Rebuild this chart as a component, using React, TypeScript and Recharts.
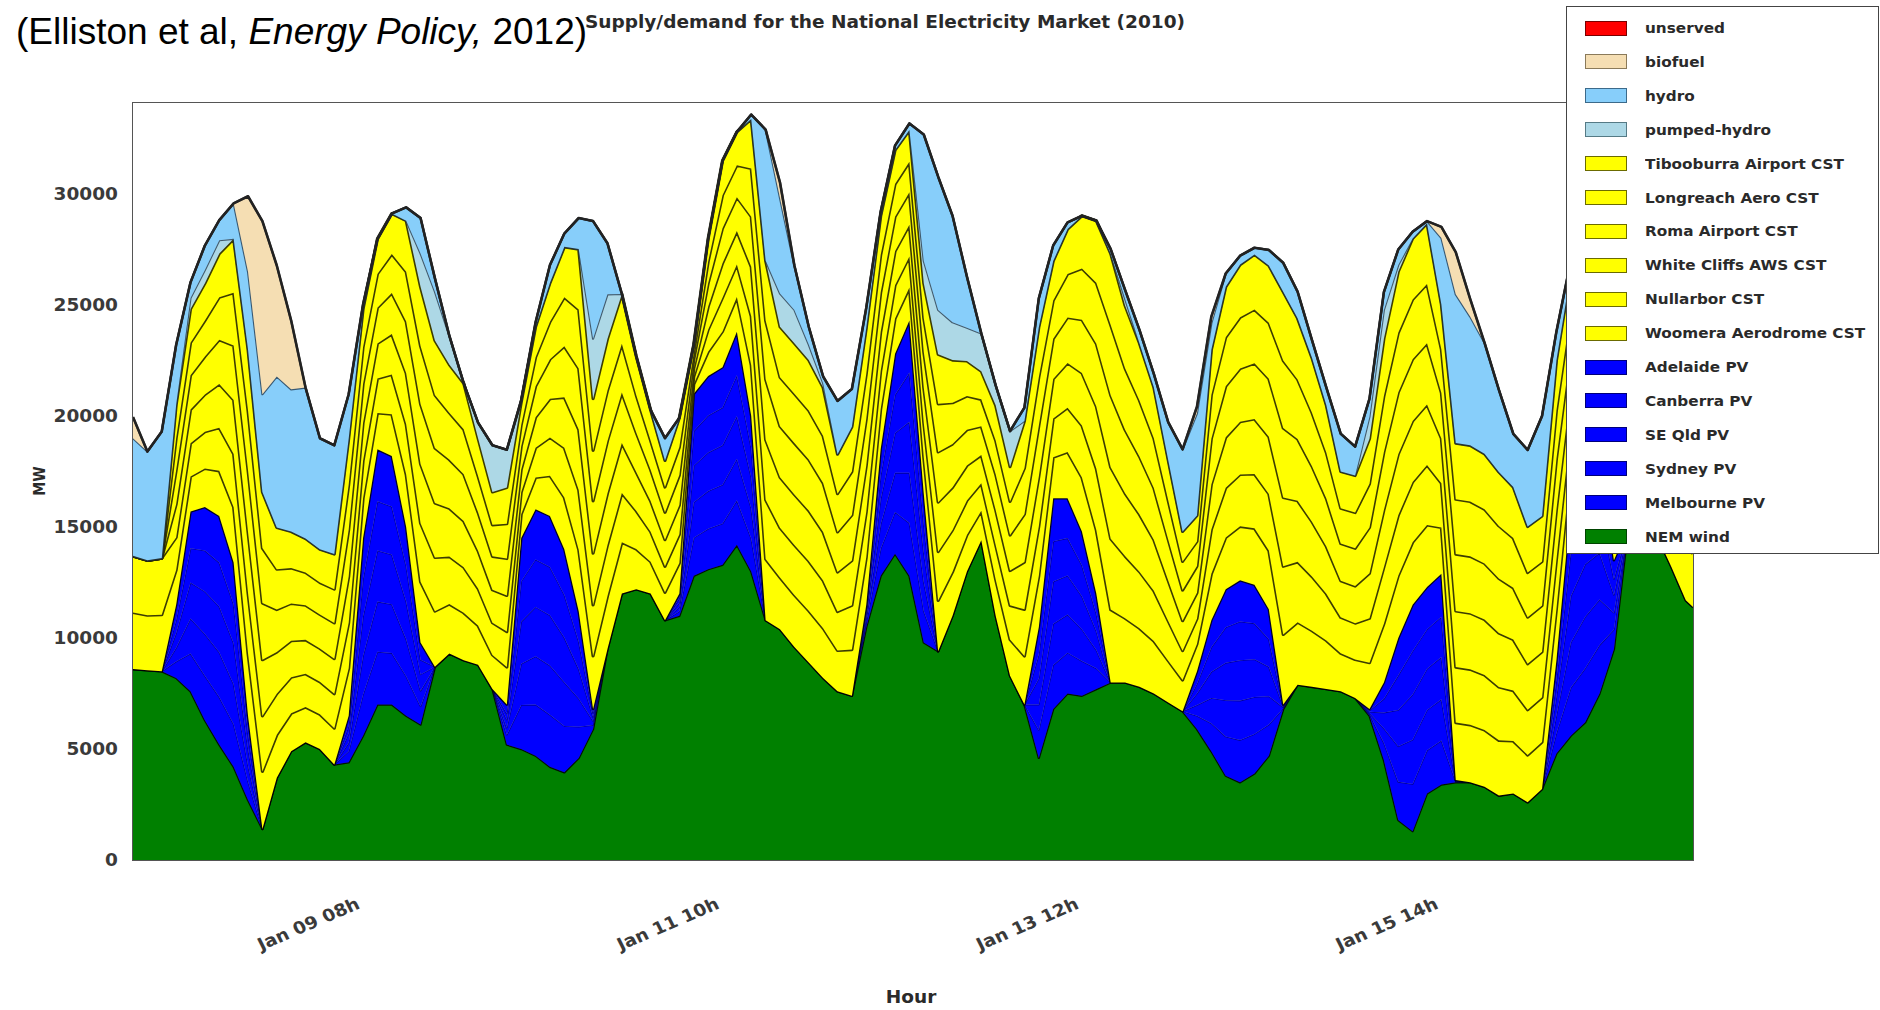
import React from 'react';
import { AreaChart, Area, XAxis, YAxis } from 'recharts';

// Stacked supply for the NEM, every 2 hours.
// Hours are counted from Jan 08 00h; the last sample sits on the right edge.
const HOURS = [
  0, 2, 4, 6, 8, 10, 12, 14, 16, 18,
  20, 22, 24, 26, 28, 30, 32, 34, 36, 38,
  40, 42, 44, 46, 48, 50, 52, 54, 56, 58,
  60, 62, 64, 66, 68, 70, 72, 74, 76, 78,
  80, 82, 84, 86, 88, 90, 92, 94, 96, 98,
  100, 102, 104, 106, 108, 110, 112, 114, 116, 118,
  120, 122, 124, 126, 128, 130, 132, 134, 136, 138,
  140, 142, 144, 146, 148, 150, 152, 154, 156, 158,
  160, 162, 164, 166, 168, 170, 172, 174, 176, 178,
  180, 182, 184, 186, 188, 190, 192, 194, 196, 198,
  200, 202, 204, 206, 208, 210, 212, 214, 216, 217,
];

const NEM_WIND = [
  8600, 8550, 8500, 8200, 7600, 6300, 5200, 4200, 2700, 1400,
  3700, 4900, 5300, 5000, 4300, 4400, 5600, 7000, 7000, 6500,
  6100, 8700, 9300, 9000, 8800, 7700, 5200, 5000, 4700, 4200,
  3950, 4600, 5900, 9500, 12000, 12200, 12000, 10800, 11000, 12800,
  13100, 13300, 14200, 13000, 10800, 10400, 9600, 8900, 8200, 7600,
  7400, 10500, 12800, 13800, 12800, 9800, 9400, 11000, 13000, 14400,
  11000, 8300, 7000, 4600, 6800, 7500, 7400, 7700, 8000, 8000,
  7800, 7500, 7100, 6700, 5900, 4900, 3800, 3500, 3900, 4700,
  6800, 7900, 7800, 7700, 7600, 7300, 6500, 4500, 1800, 1300,
  3000, 3400, 3500, 3500, 3300, 2900, 3000, 2600, 3200, 4800,
  5600, 6200, 7500, 9500, 15000, 15200, 14600, 13200, 11700, 11400,
];

const MELBOURNE_PV = [
  0, 0, 0, 740, 1700, 2000, 2140, 1920, 840, 0,
  0, 0, 0, 0, 0, 500, 1860, 2380, 2320, 1780,
  820, 0, 0, 0, 0, 0, 440, 1980, 2300, 2340,
  2090, 1400, 180, 0, 0, 0, 0, 0, 200, 1720,
  1820, 1860, 2000, 1480, 0, 0, 0, 0, 0, 0,
  0, 200, 1220, 1880, 2380, 1420, 0, 0, 0, 0,
  0, 0, 0, 1260, 1980, 1840, 1560, 940, 0, 0,
  0, 0, 0, 0, 600, 1260, 1760, 1900, 1780, 1400,
  40, 0, 0, 0, 0, 0, 60, 780, 1720, 2120,
  1940, 1980, 20, 0, 0, 0, 0, 0, 0, 920,
  2160, 2440, 2180, 880, 0, 0, 0, 0, 0, 0,
];

const SYDNEY_PV = [
  0, 0, 0, 620, 1580, 1880, 2020, 1800, 720, 0,
  0, 0, 0, 0, 0, 380, 1740, 2260, 2200, 1660,
  700, 0, 0, 0, 0, 0, 320, 1860, 2180, 2220,
  1970, 1280, 180, 0, 0, 0, 0, 0, 200, 1600,
  1700, 1740, 1880, 1360, 0, 0, 0, 0, 0, 0,
  0, 200, 1100, 1760, 2260, 1300, 0, 0, 0, 0,
  0, 0, 0, 1140, 1860, 1720, 1440, 820, 0, 0,
  0, 0, 0, 0, 480, 1140, 1640, 1780, 1660, 1280,
  40, 0, 0, 0, 0, 0, 60, 660, 1600, 2000,
  1820, 1860, 20, 0, 0, 0, 0, 0, 0, 800,
  2040, 2320, 2060, 760, 0, 0, 0, 0, 0, 0,
];

const SE_QLD_PV = [
  0, 0, 0, 660, 1620, 1920, 2060, 1840, 760, 0,
  0, 0, 0, 0, 0, 420, 1780, 2300, 2240, 1700,
  740, 0, 0, 0, 0, 0, 360, 1900, 2220, 2260,
  2010, 1320, 180, 0, 0, 0, 0, 0, 200, 1640,
  1740, 1780, 1920, 1400, 0, 0, 0, 0, 0, 0,
  0, 200, 1140, 1800, 2300, 1340, 0, 0, 0, 0,
  0, 0, 0, 1180, 1900, 1760, 1480, 860, 0, 0,
  0, 0, 0, 0, 520, 1180, 1680, 1820, 1700, 1320,
  40, 0, 0, 0, 0, 0, 60, 700, 1640, 2040,
  1860, 1900, 20, 0, 0, 0, 0, 0, 0, 840,
  2080, 2360, 2100, 800, 0, 0, 0, 0, 0, 0,
];

const CANBERRA_PV = [
  0, 0, 0, 580, 1540, 1840, 1980, 1760, 680, 0,
  0, 0, 0, 0, 0, 340, 1700, 2220, 2160, 1620,
  660, 0, 0, 0, 0, 0, 280, 1820, 2140, 2180,
  1930, 1240, 180, 0, 0, 0, 0, 0, 200, 1560,
  1660, 1700, 1840, 1320, 0, 0, 0, 0, 0, 0,
  0, 200, 1060, 1720, 2220, 1260, 0, 0, 0, 0,
  0, 0, 0, 1100, 1820, 1680, 1400, 780, 0, 0,
  0, 0, 0, 0, 440, 1100, 1600, 1740, 1620, 1240,
  40, 0, 0, 0, 0, 0, 60, 620, 1560, 1960,
  1780, 1820, 20, 0, 0, 0, 0, 0, 0, 760,
  2000, 2280, 2020, 720, 0, 0, 0, 0, 0, 0,
];

const ADELAIDE_PV = [
  0, 0, 0, 700, 1660, 1960, 2100, 1880, 800, 0,
  0, 0, 0, 0, 0, 460, 1820, 2340, 2280, 1740,
  780, 0, 0, 0, 0, 0, 400, 1940, 2260, 2300,
  2050, 1360, 180, 0, 0, 0, 0, 0, 200, 1680,
  1780, 1820, 1960, 1440, 0, 0, 0, 0, 0, 0,
  0, 200, 1180, 1840, 2340, 1380, 0, 0, 0, 0,
  0, 0, 0, 1220, 1940, 1800, 1520, 900, 0, 0,
  0, 0, 0, 0, 560, 1220, 1720, 1860, 1740, 1360,
  40, 0, 0, 0, 0, 0, 60, 740, 1680, 2080,
  1900, 1940, 20, 0, 0, 0, 0, 0, 0, 880,
  2120, 2400, 2140, 840, 0, 0, 0, 0, 0, 0,
];

const WOOMERA_CST = [
  2550, 2480, 2550, 1560, 1580, 1740, 2030, 2490, 2810, 2590,
  1940, 1710, 1590, 1560, 1640, 2140, 1780, 1640, 1880, 2360,
  2730, 2510, 2230, 2140, 1760, 1540, 1690, 1080, 1430, 1810,
  2330, 2780, 2390, 2390, 2310, 1810, 1440, 1260, 1380, 430,
  1090, 1610, 1560, 2290, 2760, 2330, 2340, 2330, 2240, 1840,
  2080, 2140, 1810, 1590, 1490, 1640, 2290, 1980, 1640, 1330,
  1640, 1630, 2190, 2310, 1840, 2080, 2430, 2860, 3280, 2890,
  2640, 2360, 1880, 1410, 1230, 2090, 2330, 2430, 2540, 2640,
  3160, 2810, 2530, 2190, 1710, 1730, 2090, 2640, 2810, 2810,
  2790, 2080, 2590, 2590, 2560, 2490, 2360, 2130, 2110, 2310,
  1810, 1810, 1890, 2560, 2060, 1760, 2400, 2400, 2400, 2400,
];

const NULLARBOR_CST = [
  2550, 2470, 2550, 1470, 1490, 1650, 1940, 2400, 2720, 2500,
  1850, 1620, 1500, 1470, 1550, 2050, 1690, 1550, 1790, 2270,
  2640, 2420, 2140, 2050, 1670, 1450, 1600, 990, 1340, 1720,
  2240, 2690, 2300, 2300, 2220, 1720, 1350, 1170, 1290, 340,
  1000, 1520, 1470, 2200, 2670, 2240, 2250, 2240, 2150, 1750,
  1990, 2050, 1720, 1500, 1400, 1550, 2200, 1890, 1550, 1240,
  1550, 1540, 2100, 2220, 1750, 1990, 2340, 2770, 3190, 2800,
  2550, 2270, 1790, 1320, 1140, 2000, 2240, 2340, 2450, 2550,
  3070, 2720, 2440, 2100, 1620, 1640, 2000, 2550, 2720, 2720,
  2700, 1990, 2500, 2500, 2470, 2400, 2270, 2040, 2020, 2220,
  1720, 1720, 1800, 2470, 1970, 1670, 1300, 1100, 1100, 1100,
];

const WHITE_CLIFFS_CST = [
  0, 0, 0, 1500, 1520, 1680, 1970, 2430, 2750, 2530,
  1880, 1650, 1530, 1500, 1580, 2080, 1720, 1580, 1820, 2300,
  2670, 2450, 2170, 2080, 1700, 1480, 1630, 1020, 1370, 1750,
  2270, 2720, 2330, 2330, 2250, 1750, 1380, 1200, 1320, 370,
  1030, 1550, 1500, 2230, 2700, 2270, 2280, 2270, 2180, 1780,
  2020, 2080, 1750, 1530, 1430, 1580, 2230, 1920, 1580, 1270,
  1580, 1570, 2130, 2250, 1780, 2020, 2370, 2800, 3220, 2830,
  2580, 2300, 1820, 1350, 1170, 2030, 2270, 2370, 2480, 2580,
  3100, 2750, 2470, 2130, 1650, 1670, 2030, 2580, 2750, 2750,
  2730, 2020, 2530, 2530, 2500, 2430, 2300, 2070, 2050, 2250,
  1750, 1750, 1830, 2500, 2000, 1700, 1300, 1100, 1100, 1100,
];

const ROMA_CST = [
  0, 0, 0, 1530, 1550, 1710, 2000, 2460, 2780, 2560,
  1910, 1680, 1560, 1530, 1610, 2110, 1750, 1610, 1850, 2330,
  2700, 2480, 2200, 2110, 1730, 1510, 1660, 1050, 1400, 1780,
  2300, 2750, 2360, 2360, 2280, 1780, 1410, 1230, 1350, 400,
  1060, 1580, 1530, 2260, 2730, 2300, 2310, 2300, 2210, 1810,
  2050, 2110, 1780, 1560, 1460, 1610, 2260, 1950, 1610, 1300,
  1610, 1600, 2160, 2280, 1810, 2050, 2400, 2830, 3250, 2860,
  2610, 2330, 1850, 1380, 1200, 2060, 2300, 2400, 2510, 2610,
  3130, 2780, 2500, 2160, 1680, 1700, 2060, 2610, 2780, 2780,
  2760, 2050, 2560, 2560, 2530, 2460, 2330, 2100, 2080, 2280,
  1780, 1780, 1860, 2530, 2030, 1730, 1300, 1100, 1100, 1100,
];

const LONGREACH_CST = [
  0, 0, 0, 1440, 1460, 1620, 1910, 2370, 2690, 2470,
  1820, 1590, 1470, 1440, 1520, 2020, 1660, 1520, 1760, 2240,
  2610, 2390, 2110, 2020, 1640, 1420, 1570, 960, 1310, 1690,
  2210, 2660, 2270, 2270, 2190, 1690, 1320, 1140, 1260, 310,
  970, 1490, 1440, 2170, 2640, 2210, 2220, 2210, 2120, 1720,
  1960, 2020, 1690, 1470, 1370, 1520, 2170, 1860, 1520, 1210,
  1520, 1510, 2070, 2190, 1720, 1960, 2310, 2740, 3160, 2770,
  2520, 2240, 1760, 1290, 1110, 1970, 2210, 2310, 2420, 2520,
  3040, 2690, 2410, 2070, 1590, 1610, 1970, 2520, 2690, 2690,
  2670, 1960, 2470, 2470, 2440, 2370, 2240, 2010, 1990, 2190,
  1690, 1690, 1770, 2440, 1940, 1640, 1300, 1100, 1100, 1100,
];

const TIBOOBURRA_CST = [
  0, 0, 0, 1500, 1520, 1680, 1970, 2430, 2750, 2530,
  1880, 1650, 1530, 1500, 1580, 2080, 1720, 1580, 1820, 2300,
  2670, 2450, 2170, 2080, 1700, 1480, 1630, 1020, 1370, 1750,
  2270, 2720, 2330, 2330, 2250, 1750, 1380, 1200, 1320, 370,
  1030, 1550, 1500, 2230, 2700, 2270, 2280, 2270, 2180, 1780,
  2020, 2080, 1750, 1530, 1430, 1580, 2230, 1920, 1580, 1270,
  1580, 1570, 2130, 2250, 1780, 2020, 2370, 2800, 3220, 2830,
  2580, 2300, 1820, 1350, 1170, 2030, 2270, 2370, 2480, 2580,
  3100, 2750, 2470, 2130, 1650, 1670, 2030, 2580, 2750, 2750,
  2730, 2020, 2530, 2530, 2500, 2430, 2300, 2070, 2050, 2250,
  1750, 1750, 1830, 2500, 2000, 1700, 1300, 1100, 1100, 1100,
];

const PUMPED_HYDRO = [
  0, 0, 0, 0, 500, 600, 600, 0, 0, 0,
  0, 0, 0, 0, 0, 0, 0, 0, 0, 0,
  1500, 2200, 1300, 0, 700, 2100, 1700, 0, 0, 0,
  0, 0, 2700, 2000, 0, 0, 0, 0, 0, 0,
  0, 0, 0, 0, 0, 1500, 1500, 700, 200, 0,
  0, 0, 0, 0, 0, 1000, 2000, 1700, 1500, 1700,
  900, 1600, 0, 0, 0, 0, 0, 0, 0, 300,
  0, 0, 0, 0, 0, 0, 0, 0, 0, 0,
  0, 0, 0, 0, 0, 0, 1000, 1300, 300, 0,
  0, 0, 0, 0, 0, 0, 0, 0, 0, 0,
  0, 0, 0, 0, 0, 0, 0, 0, 0, 0,
];

const HYDRO = [
  5300, 4900, 5700, 2700, 700, 1100, 900, 1600, 3500, 4400,
  6800, 6400, 6800, 5000, 4900, 2000, 200, 0, 0, 600,
  1600, 600, 0, 0, 0, 0, 0, 100, 200, 800,
  600, 1400, 5300, 2300, 0, 0, 0, 1000, 0, 0,
  0, 0, 0, 200, 5900, 4300, 2000, 800, 300, 2400,
  1700, 900, 200, 200, 300, 5700, 6000, 4800, 2300, 0,
  0, 0, 600, 1300, 700, 300, 0, 0, 200, 400,
  600, 600, 1700, 3700, 4600, 1200, 600, 400, 300, 700,
  1300, 1200, 800, 800, 1700, 1300, 800, 800, 700, 300,
  100, 3000, 6700, 5800, 5000, 3700, 2400, 3450, 4500, 1300,
  500, 0, 0, 100, 500, 500, 500, 500, 300, 300,
];

const BIOFUEL = [
  950, 0, 0, 0, 0, 0, 0, 0, 3400, 7800,
  5000, 3100, 0, 0, 0, 0, 0, 0, 0, 0,
  0, 0, 0, 0, 0, 0, 0, 0, 0, 0,
  0, 0, 0, 0, 0, 0, 0, 0, 0, 0,
  0, 0, 0, 0, 0, 700, 0, 0, 0, 0,
  0, 0, 0, 0, 0, 0, 0, 0, 0, 0,
  0, 0, 0, 0, 0, 0, 0, 0, 0, 0,
  0, 0, 0, 0, 300, 300, 0, 0, 0, 0,
  0, 0, 0, 0, 0, 0, 0, 0, 0, 0,
  0, 500, 1900, 800, 0, 0, 0, 0, 0, 0,
  0, 0, 0, 0, 0, 0, 0, 0, 0, 0,
];

const UNSERVED = [
  0, 0, 0, 0, 0, 0, 0, 0, 0, 0,
  0, 0, 0, 0, 0, 0, 0, 0, 0, 0,
  0, 0, 0, 0, 0, 0, 0, 0, 0, 0,
  0, 0, 0, 0, 0, 0, 0, 0, 0, 0,
  0, 0, 0, 0, 0, 0, 0, 0, 0, 0,
  0, 0, 0, 0, 0, 0, 0, 0, 0, 0,
  0, 0, 0, 0, 0, 0, 0, 0, 0, 0,
  0, 0, 0, 0, 0, 0, 0, 0, 0, 0,
  0, 0, 0, 0, 0, 0, 0, 0, 0, 0,
  0, 0, 0, 0, 0, 0, 0, 0, 0, 0,
  0, 0, 0, 0, 0, 0, 0, 0, 0, 0,
];

const X_TICKS = [32, 82, 132, 182];
const X_LABELS = ['Jan 09 08h', 'Jan 11 10h', 'Jan 13 12h', 'Jan 15 14h'];
const Y_TICKS = [0, 5000, 10000, 15000, 20000, 25000, 30000];

// matplotlib named colours used by the original stackplot
const C = {
  wind: '#008000', pv: '#0000ff', cst: '#ffff00', pumped: '#add8e6',
  hydro: '#87cefa', bio: '#f5deb3', unserved: '#ff0000',
};
const FONT = "'DejaVu Sans', sans-serif";
const STRETCH = 1.09; // the source figure was pasted in stretched sideways

// bottom -> top, same order as the stack
const CST_LINE = 'rgba(40,40,0,0.9)';
const PV_LINE = 'rgba(0,0,30,0.45)';
const LAYERS = [
  { key: 'wind', name: 'NEM wind', values: NEM_WIND, fill: C.wind, line: 'rgba(0,0,0,0.85)', lw: 2.4, edge: '#004400' },
  { key: 'mel', name: 'Melbourne PV', values: MELBOURNE_PV, fill: C.pv, line: PV_LINE, lw: 1.6, edge: '#00007a' },
  { key: 'syd', name: 'Sydney PV', values: SYDNEY_PV, fill: C.pv, line: PV_LINE, lw: 1.6, edge: '#00007a' },
  { key: 'qld', name: 'SE Qld PV', values: SE_QLD_PV, fill: C.pv, line: PV_LINE, lw: 1.6, edge: '#00007a' },
  { key: 'cbr', name: 'Canberra PV', values: CANBERRA_PV, fill: C.pv, line: PV_LINE, lw: 1.6, edge: '#00007a' },
  { key: 'adl', name: 'Adelaide PV', values: ADELAIDE_PV, fill: C.pv, line: 'rgba(0,0,0,0.85)', lw: 2.6, edge: '#00007a' },
  { key: 'woo', name: 'Woomera Aerodrome CST', values: WOOMERA_CST, fill: C.cst, line: CST_LINE, lw: 3.2, edge: '#6b6b00' },
  { key: 'nul', name: 'Nullarbor CST', values: NULLARBOR_CST, fill: C.cst, line: CST_LINE, lw: 3.2, edge: '#6b6b00' },
  { key: 'wcl', name: 'White Cliffs AWS CST', values: WHITE_CLIFFS_CST, fill: C.cst, line: CST_LINE, lw: 3.2, edge: '#6b6b00' },
  { key: 'rom', name: 'Roma Airport CST', values: ROMA_CST, fill: C.cst, line: CST_LINE, lw: 3.2, edge: '#6b6b00' },
  { key: 'lon', name: 'Longreach Aero CST', values: LONGREACH_CST, fill: C.cst, line: CST_LINE, lw: 3.2, edge: '#6b6b00' },
  { key: 'tib', name: 'Tibooburra Airport CST', values: TIBOOBURRA_CST, fill: C.cst, line: CST_LINE, lw: 3.2, edge: '#6b6b00' },
  { key: 'pump', name: 'pumped-hydro', values: PUMPED_HYDRO, fill: C.pumped, line: 'rgba(30,50,70,0.75)', lw: 2.2, edge: '#557a85' },
  { key: 'hydro', name: 'hydro', values: HYDRO, fill: C.hydro, line: 'rgba(30,50,70,0.75)', lw: 2.2, edge: '#3c6a8a' },
  { key: 'bio', name: 'biofuel', values: BIOFUEL, fill: C.bio, line: 'rgba(40,40,40,0.8)', lw: 2.2, edge: '#8a7a5a' },
  { key: 'uns', name: 'unserved', values: UNSERVED, fill: C.unserved, line: '#222', lw: 2.6, edge: '#7a0000' },
];

const rows = HOURS.map((h, i) => {
  const r: Record<string, number> = { h };
  LAYERS.forEach((l) => { r[l.key] = l.values[i]; });
  return r;
});

function YTick({ x, y, payload }: any) {
  return (
    <text x={0} y={0} dy="0.36em" transform={`translate(${x},${y}) scale(${STRETCH},1)`}
      textAnchor="end" fontSize={17} fontWeight="bold" fontFamily={FONT} fill="#3a3a3a">
      {payload.value}
    </text>
  );
}

// rotated 30° in the original; the sideways stretch flattens it to ~25°
function XTick({ x, y, payload }: any) {
  const label = X_LABELS[X_TICKS.indexOf(payload.value)];
  return (
    <text x={0} y={0} transform={`translate(${x - 2},${y + 48}) scale(${STRETCH},1) rotate(-25)`}
      textAnchor="end" fontSize={17} fontWeight="bold" fontFamily={FONT} fill="#3a3a3a">
      {label}
    </text>
  );
}

function Legend() {
  const items = [...LAYERS].reverse();
  return (
    <div style={{
      position: 'absolute', left: 1566, top: 6, width: 313, height: 548, boxSizing: 'border-box',
      border: '1px solid #444', background: '#fff',
    }}>
      {items.map((l, i) => (
        <div key={l.key} style={{ position: 'absolute', top: 4 + 33.9 * i, left: 0, height: 34, display: 'flex', alignItems: 'center' }}>
          <div style={{ marginLeft: 18, width: 42, height: 15, boxSizing: 'border-box', background: l.fill, border: `1.5px solid ${l.edge}` }} />
          <span style={{
            marginLeft: 18, fontFamily: FONT, fontSize: 14, fontWeight: 'bold', color: '#2a2a2a', whiteSpace: 'nowrap',
            display: 'inline-block', transform: `scaleX(${STRETCH})`, transformOrigin: 'left center',
          }}>{l.name}</span>
        </div>
      ))}
    </div>
  );
}

export default function App() {
  return (
    <div style={{ position: 'absolute', left: 0, top: 0, width: 1880, height: 1010, background: '#fff', overflow: 'hidden' }}>
      <AreaChart width={1880} height={1010} data={rows} margin={{ top: 103, right: 187, bottom: 90, left: 63 }}>
        <XAxis dataKey="h" type="number" domain={[0, 217]} ticks={X_TICKS} interval={0} tick={<XTick />}
          axisLine={false} tickLine={false} tickSize={0} tickMargin={0} height={60} />
        <YAxis type="number" domain={[0, 34100]} ticks={Y_TICKS} interval={0} allowDataOverflow tick={<YTick />}
          axisLine={false} tickLine={false} tickSize={0} tickMargin={15} width={70} />
        {LAYERS.map((l) => (
          <Area key={l.key} type="linear" dataKey={l.key} stackId="supply" fill={l.fill} fillOpacity={1}
            stroke={l.line} strokeWidth={l.lw} strokeLinejoin="round" dot={false} activeDot={false}
            isAnimationActive={false} />
        ))}
      </AreaChart>

      {/* axes frame */}
      <div style={{ position: 'absolute', left: 132, top: 102, width: 1562, height: 759, boxSizing: 'border-box', border: '1px solid #555' }} />

      <svg width={1880} height={1010} style={{ position: 'absolute', left: 0, top: 0, pointerEvents: 'none' }}>
        <text x={16} y={44} fontFamily="'Liberation Sans', Arial, sans-serif" fontSize={37} fill="#000">
          (Elliston et al, <tspan fontStyle="italic">Energy Policy,</tspan> 2012)
        </text>
        <text x={0} y={0} transform={`translate(885,28) scale(${STRETCH},1)`} textAnchor="middle"
          fontFamily={FONT} fontSize={17} fontWeight="bold" fill="#2a2a2a">
          Supply/demand for the National Electricity Market (2010)
        </text>
        <text x={0} y={0} transform={`translate(45,481) scale(${STRETCH},1) rotate(-90)`} textAnchor="middle"
          fontFamily={FONT} fontSize={14} fontWeight="bold" fill="#2a2a2a">
          MW
        </text>
        <text x={0} y={0} transform={`translate(911,1003) scale(${STRETCH},1)`} textAnchor="middle"
          fontFamily={FONT} fontSize={17} fontWeight="bold" fill="#2a2a2a">
          Hour
        </text>
      </svg>

      <Legend />
    </div>
  );
}
